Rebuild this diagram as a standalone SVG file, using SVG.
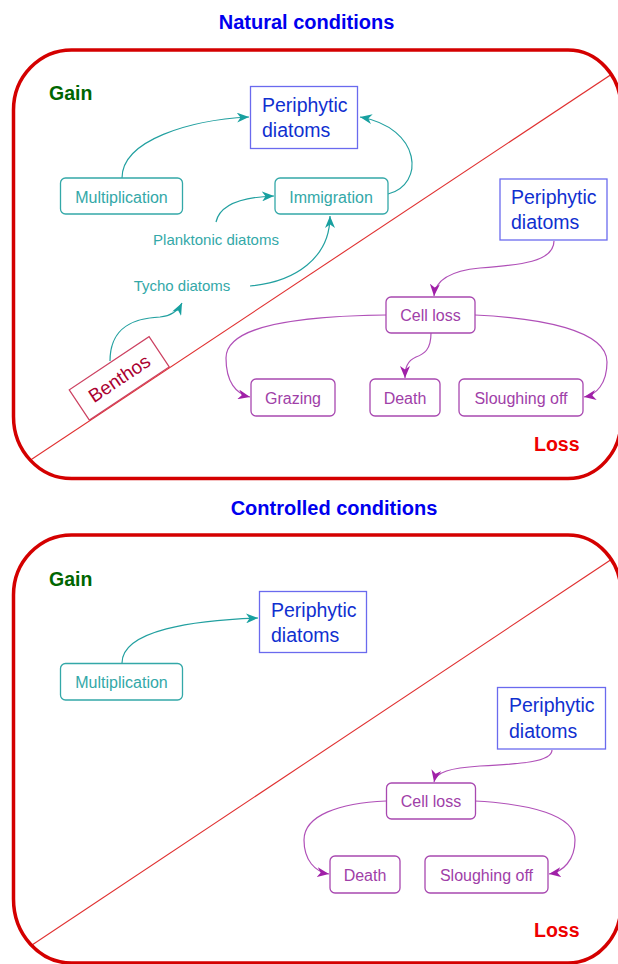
<svg xmlns="http://www.w3.org/2000/svg" width="618" height="964" viewBox="0 0 618 964">
<style>
text{font-family:"Liberation Sans",Arial,sans-serif}
.title{font-size:20px;font-weight:bold;fill:#0000ee;text-anchor:middle}
.gain{font-size:19.5px;font-weight:bold;fill:#006600}
.loss{font-size:19.5px;font-weight:bold;fill:#ee0000}
.frame{fill:none;stroke:#d40000;stroke-width:3.5}
.diag{stroke:#e03030;stroke-width:1.1}
.pbox{fill:#fff;stroke:#6a6aee;stroke-width:1.3}
.ptxt{font-size:19.5px;fill:#1030d0}
.tbox{fill:#fff;stroke:#33a8a8;stroke-width:1.3}
.ttxt{font-size:16px;fill:#33a8a8;text-anchor:middle}
.tlab{font-size:15px;fill:#33a8a8;text-anchor:middle}
.mbox{fill:#fff;stroke:#a848b0;stroke-width:1.3}
.mtxt{font-size:16px;fill:#a040a8;text-anchor:middle}
.tarr{fill:none;stroke:#22a0a0;stroke-width:1.2;marker-end:url(#ta)}
.marr{fill:none;stroke:#b050b8;stroke-width:1.2;marker-end:url(#ma)}
</style>
<defs>
<marker id="ta" viewBox="0 0 12 10" refX="12" refY="5" markerWidth="12" markerHeight="10" markerUnits="userSpaceOnUse" orient="auto">
<path d="M0,0 L12,5 L0,10 L3.5,5 Z" fill="#18a0a0"/>
</marker>
<marker id="ma" viewBox="0 0 12 10" refX="12" refY="5" markerWidth="12" markerHeight="10" markerUnits="userSpaceOnUse" orient="auto">
<path d="M0,0 L12,5 L0,10 L3.5,5 Z" fill="#a020a8"/>
</marker>
<clipPath id="c1"><path d="M71.5,50 H568 A53,58 0 0 1 621,108 V420 A53,58 0 0 1 568,478.5 H71.5 A58,62 0 0 1 13.5,416.5 V110 A58,60 0 0 1 71.5,50 Z"/></clipPath>
<clipPath id="c2"><path d="M71.5,535 H568 A53,58 0 0 1 621,593 V905 A53,58 0 0 1 568,963 H71.5 A58,64 0 0 1 13.5,899 V595 A58,60 0 0 1 71.5,535 Z"/></clipPath>
</defs>

<!-- Natural conditions panel -->
<text class="title" x="306.5" y="29">Natural conditions</text>
<g id="frame1">
<line class="diag" x1="20" y1="467" x2="630" y2="62" clip-path="url(#c1)"/>
<path class="frame" d="M71.5,50 H568 A53,58 0 0 1 621,108 V420 A53,58 0 0 1 568,478.5 H71.5 A58,62 0 0 1 13.5,416.5 V110 A58,60 0 0 1 71.5,50 Z"/>
</g>
<text class="gain" x="49" y="100">Gain</text>
<text class="loss" x="534" y="450.5">Loss</text>

<g id="connectors1">
<path class="tarr" d="M122,178 C122,140 190,120 249,117"/>
<path class="tarr" d="M388,194 C425,185 422,128 360,117"/>
<path class="tarr" d="M216,222 C220,204 245,197 274,196"/>
<path class="tarr" d="M250,286 C295,282 330,258 330,216"/>
<path class="tarr" d="M110,361 C110,326 135,318 160,317 C172,316 178,311 182,303"/>
<path class="marr" d="M554,241 C554,262 520,265 480,268 C448,271 435,282 434,296"/>
<path class="marr" d="M386,315 C300,316 226,325 226,358 C226,382 236,394 250,397"/>
<path class="marr" d="M431,333 C431,350 424,354 416,357 C407,361 405,368 405,378"/>
<path class="marr" d="M475,315 C540,318 607,330 607,362 C607,384 596,395 584,397"/>
</g>

<g id="periphytic1">
<rect class="pbox" x="250.5" y="86.5" width="107" height="62"/>
<text class="ptxt" x="262" y="111.5">Periphytic</text>
<text class="ptxt" x="262" y="137">diatoms</text>
</g>
<g id="multiplication1">
<rect class="tbox" x="60.5" y="178" width="122" height="36" rx="5"/>
<text class="ttxt" x="121.5" y="202.5">Multiplication</text>
</g>
<g id="immigration1">
<rect class="tbox" x="275" y="178" width="113" height="36" rx="5"/>
<text class="ttxt" x="331" y="202.5">Immigration</text>
</g>
<g id="planktonic1"><text class="tlab" x="216" y="245">Planktonic diatoms</text></g>
<g id="tycho1"><text class="tlab" x="182" y="291">Tycho diatoms</text></g>
<g id="benthos1" transform="rotate(-33.7 119.2 378.3)">
<rect x="71.2" y="360.2" width="96" height="36.3" fill="#fff" stroke="#cc4060" stroke-width="1.2"/>
<text x="119.2" y="385" font-size="19px" fill="#aa0030" text-anchor="middle">Benthos</text>
</g>
<g id="periphytic1loss">
<rect class="pbox" x="500" y="179" width="107" height="61"/>
<text class="ptxt" x="511" y="203.5">Periphytic</text>
<text class="ptxt" x="511" y="229">diatoms</text>
</g>
<g id="cellloss1">
<rect class="mbox" x="386" y="297" width="89" height="36" rx="5"/>
<text class="mtxt" x="430.5" y="321">Cell loss</text>
</g>
<g id="grazing1">
<rect class="mbox" x="251" y="379" width="84" height="37" rx="5"/>
<text class="mtxt" x="293" y="403.5">Grazing</text>
</g>
<g id="death1">
<rect class="mbox" x="370" y="379" width="70" height="37" rx="5"/>
<text class="mtxt" x="405" y="403.5">Death</text>
</g>
<g id="sloughing1">
<rect class="mbox" x="459" y="379" width="124" height="37" rx="5"/>
<text class="mtxt" x="521" y="403.5">Sloughing off</text>
</g>

<!-- Controlled conditions panel -->
<text class="title" x="334" y="515">Controlled conditions</text>
<g id="frame2">
<line class="diag" x1="20" y1="953" x2="630" y2="547" clip-path="url(#c2)"/>
<path class="frame" d="M71.5,535 H568 A53,58 0 0 1 621,593 V905 A53,58 0 0 1 568,963 H71.5 A58,64 0 0 1 13.5,899 V595 A58,60 0 0 1 71.5,535 Z"/>
</g>
<text class="gain" x="49" y="586">Gain</text>
<text class="loss" x="534" y="936.5">Loss</text>

<g id="connectors2">
<path class="tarr" d="M122,663 C122,630 195,620 258,618"/>
<path class="marr" d="M552,750 C552,762 520,764 480,766 C450,768 436,772 434,782"/>
<path class="marr" d="M386,801 C340,803 304,815 304,840 C304,860 315,872 329,874"/>
<path class="marr" d="M475,801 C530,804 575,815 575,840 C575,860 563,872 549,874"/>
</g>

<g id="periphytic2">
<rect class="pbox" x="259.5" y="591.5" width="107" height="61"/>
<text class="ptxt" x="271" y="616.5">Periphytic</text>
<text class="ptxt" x="271" y="642">diatoms</text>
</g>
<g id="multiplication2">
<rect class="tbox" x="60.5" y="663.5" width="122" height="36.5" rx="5"/>
<text class="ttxt" x="121.5" y="688">Multiplication</text>
</g>
<g id="periphytic2loss">
<rect class="pbox" x="497.5" y="687.5" width="108" height="61.5"/>
<text class="ptxt" x="509" y="712">Periphytic</text>
<text class="ptxt" x="509" y="738">diatoms</text>
</g>
<g id="cellloss2">
<rect class="mbox" x="386.5" y="783" width="89" height="36" rx="5"/>
<text class="mtxt" x="431" y="807">Cell loss</text>
</g>
<g id="death2">
<rect class="mbox" x="330" y="856" width="70" height="37" rx="5"/>
<text class="mtxt" x="365" y="881">Death</text>
</g>
<g id="sloughing2">
<rect class="mbox" x="425" y="856" width="123" height="37" rx="5"/>
<text class="mtxt" x="486.5" y="881">Sloughing off</text>
</g>
</svg>
